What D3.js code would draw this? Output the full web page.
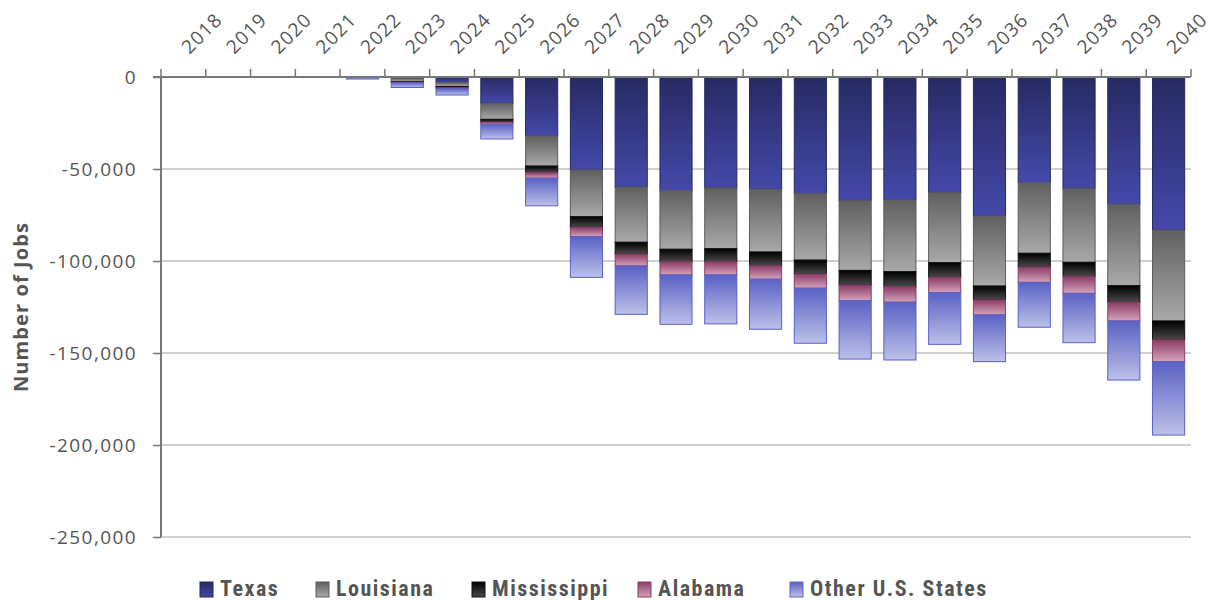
<!DOCTYPE html>
<html><head><meta charset="utf-8">
<script src="https://cdn.jsdelivr.net/npm/d3@7"></script>
<style>
body{margin:0;background:#fff;}
text{font-family:"Open Sans",sans-serif;}
</style></head>
<body><svg id="c" width="1212" height="600"></svg>
<script>
const years = ["2018","2019","2020","2021","2022","2023","2024","2025","2026","2027","2028","2029","2030","2031","2032","2033","2034","2035","2036","2037","2038","2039","2040"];
const seriesNames = ["Texas","Louisiana","Mississippi","Alabama","Other U.S. States"];
const texas      = [0,0,0,0,-300,-800,-3000,-14300,-32000,-50500,-59800,-61800,-60300,-61000,-63400,-67200,-66800,-62900,-75500,-57400,-60500,-69200,-83200];
const louisiana  = [0,0,0,0,0,-1700,-2200,-8700,-16400,-25400,-30000,-31800,-33000,-34100,-36100,-37900,-39000,-38000,-38100,-38400,-40200,-44200,-49400];
const mississippi= [0,0,0,0,0,-300,-600,-1500,-3600,-5800,-6600,-6800,-7100,-7500,-7600,-8100,-8200,-8000,-7600,-7600,-7800,-9100,-10300];
const alabama    = [0,0,0,0,0,-300,-500,-1200,-3000,-5100,-6300,-7200,-7200,-7300,-7700,-8400,-8400,-8300,-8100,-8200,-9100,-10100,-11800];
const otherStates= [0,0,0,0,-800,-2600,-3500,-8000,-15000,-22100,-26300,-26800,-26600,-27200,-29900,-31700,-31400,-28100,-25400,-24400,-26800,-32100,-39900];
const yTicks = [0,-50000,-100000,-150000,-200000,-250000];

const series = [texas,louisiana,mississippi,alabama,otherStates];
const grads = [
  {top:"#262a62",bot:"#4449aa",stroke:"#252960"},
  {top:"#606060",bot:"#a9a9a9",stroke:"#5c5c5c"},
  {top:"#000000",bot:"#4a4a4a",stroke:"#111111"},
  {top:"#8a3d66",bot:"#d6a3ba",stroke:"#8a3d66"},
  {top:"#5a62c4",bot:"#bcc0e8",stroke:"#5a62c8"}
];

const svg = d3.select("#c");
const defs = svg.append("defs");
grads.forEach((g,i)=>{
  const lg = defs.append("linearGradient").attr("id","g"+i).attr("x1",0).attr("y1",0).attr("x2",0).attr("y2",1);
  lg.append("stop").attr("offset","0%").attr("stop-color",g.top);
  lg.append("stop").attr("offset","100%").attr("stop-color",g.bot);
});

const x = d3.scaleBand().domain(years).range([161,1191]).paddingInner(0.26).paddingOuter(0.13);
const y = d3.scaleLinear().domain([-250000,0]).range([537,77]);

// gridlines
svg.append("g").selectAll("line").data(yTicks.filter(d=>d!==0)).join("line")
  .attr("x1",161).attr("x2",1191).attr("y1",d=>y(d)).attr("y2",d=>y(d))
  .attr("stroke","#cfcfcf").attr("stroke-width",2);

// stacked bars
const stackData = years.map((yr,i)=>{
  const o={year:yr}; seriesNames.forEach((s,k)=>o[s]=series[k][i]); return o;});
const stack = d3.stack().keys(seriesNames).offset(d3.stackOffsetDiverging);
const layers = stack(stackData);
layers.forEach((layer,k)=>{
  svg.append("g").selectAll("rect").data(layer.filter(d=>d[0]!==d[1])).join("rect")
    .attr("x",d=>x(d.data.year)+0.5)
    .attr("width",x.bandwidth()-1)
    .attr("y",d=>y(Math.max(d[0],d[1])))
    .attr("height",d=>Math.abs(y(d[0])-y(d[1])))
    .attr("fill","url(#g"+k+")")
    .attr("stroke",grads[k].stroke).attr("stroke-width",1);
});

// left axis
const yAxis = d3.axisLeft(y).tickValues(yTicks).tickSize(8).tickFormat(d3.format(","));
const ya = svg.append("g").attr("transform","translate(161,0)").call(yAxis);
ya.select(".domain").attr("stroke","#777").attr("stroke-width",2).attr("d","M0,77V537");
ya.selectAll(".tick line").attr("stroke","#777").attr("stroke-width",1.5);
ya.selectAll(".tick text").attr("x",-24).attr("fill","#555").style("font-size","19px").style("letter-spacing","1.4px")
  .text(d=>d3.format(",")(d).replace("−","-"));

// top axis (at zero)
const topAxis = svg.append("g");
topAxis.append("line").attr("x1",153).attr("x2",1191).attr("y1",y(0)).attr("y2",y(0)).attr("stroke","#777").attr("stroke-width",2);
const bounds = years.map(yr=>x(yr)-x.step()*x.paddingInner()/2).concat([1191]);
topAxis.selectAll("line.t").data(bounds).join("line").attr("class","t")
  .attr("x1",d=>d).attr("x2",d=>d).attr("y1",y(0)-8).attr("y2",y(0)).attr("stroke","#777").attr("stroke-width",1.5);
topAxis.selectAll("text").data(years).join("text")
  .attr("transform",d=>`translate(${x(d)+x.bandwidth()/2+6},55) rotate(-45)`)
  .attr("fill","#555").style("font-size","19px").style("letter-spacing","1.2px").text(d=>d);

// y title
svg.append("text").attr("transform","translate(28,307) rotate(-90)").attr("text-anchor","middle")
  .attr("fill","#555").style("font-size","20px").style("font-weight","bold").style("letter-spacing","1.1px").text("Number of Jobs");

// legend
const legX = [200,316,472,638,790];
const lg = svg.append("g");
seriesNames.forEach((s,k)=>{
  lg.append("rect").attr("x",legX[k]).attr("y",582).attr("width",13).attr("height",15)
    .attr("fill","url(#g"+k+")").attr("stroke",grads[k].stroke);
  lg.append("text").attr("x",legX[k]+20).attr("y",596).attr("fill","#555")
    .style("font-family","'Liberation Sans Narrow','Roboto Condensed',sans-serif")
    .style("font-size","22px").style("font-weight","bold").style("letter-spacing","1.5px").text(s);
});
</script></body></html>
